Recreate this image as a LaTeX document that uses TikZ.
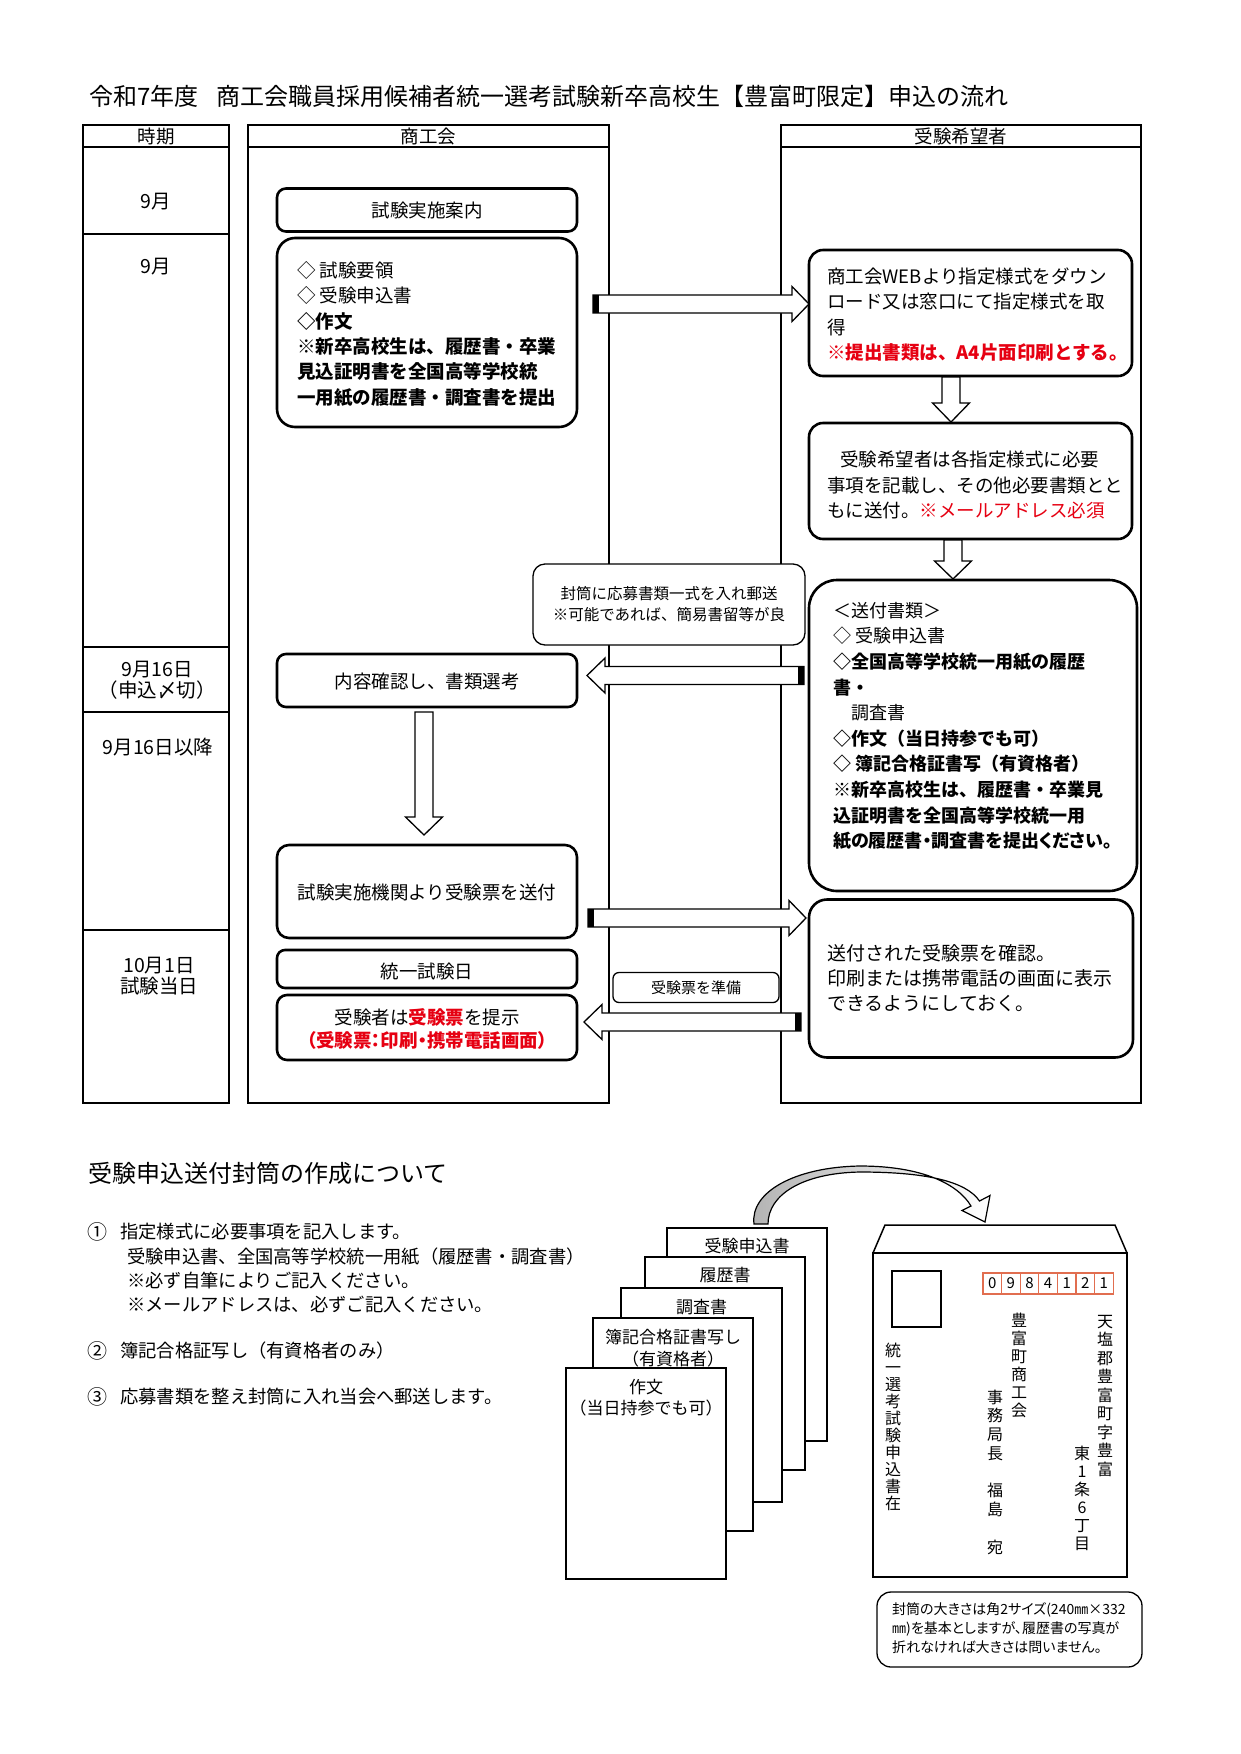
\documentclass[tikz,border=0pt]{standalone}
\usepackage{fontspec}
\setmainfont{Noto Sans CJK JP}
\newfontfamily\pj{Noto Sans CJK JP}[RawFeature={+palt}]
\definecolor{jred}{RGB}{230,0,18}
\definecolor{zipred}{RGB}{225,110,80}
\tikzset{
  rbox/.style={draw, line width=2.6pt, rounded corners=#1, fill=white, inner sep=0pt},
  rbox/.default=10pt,
  tbox/.style={draw, line width=1.3pt, rounded corners=#1, fill=white, inner sep=0pt},
  tbox/.default=10pt,
  colline/.style={line width=1.3pt},
  blk/.style={draw, line width=1.3pt, fill=white, line join=miter},
  txt/.style={inner sep=0pt, font=\fontsize{18.5}{25.3}\selectfont, align=left, anchor=west},
  ctxt/.style={inner sep=0pt, font=\fontsize{18.5}{25.3}\selectfont, align=center},
  ptxt/.style={inner sep=0pt, font=\fontsize{19.5}{21}\selectfont, align=center},
  hdr/.style={inner sep=0pt, font=\fontsize{18.5}{18.5}\selectfont},
  small/.style={inner sep=0pt, font=\fontsize{15.5}{21}\selectfont, align=center},
  sheet/.style={draw, line width=2pt, fill=white, inner sep=0pt, minimum width=160pt, minimum height=213pt},
  sheettxt/.style={inner sep=0pt, font=\fontsize{17}{22}\selectfont, align=center},
  vtxt/.style={inner sep=0pt, font=\fontsize{16}{#1}\selectfont, align=center},
  btxt/.style={inner sep=0pt, font=\fontsize{18.3}{24}\selectfont, align=left, anchor=west},
  numtxt/.style={inner sep=0pt, font=\fontsize{20}{20}\selectfont, anchor=west},
}
% horizontal block arrow: tail x, tip x, centre y, signed head length
\newcommand{\hblk}[4]{%
  \draw[blk] ({#1},{#3-9}) -- ({#2-(#4)},{#3-9}) -- ({#2-(#4)},{#3-17.5}) -- ({#2},{#3})
    -- ({#2-(#4)},{#3+17.5}) -- ({#2-(#4)},{#3+9}) -- ({#1},{#3+9}) -- cycle;
  \fill ({#1},{#3-9}) rectangle ({#1+0.35*(#4)},{#3+9});}
% vertical block arrow: x, tail y, tip y, head length
\newcommand{\vblk}[4]{%
  \draw[blk] ({#1-9},{#2}) -- ({#1-9},{#3-(#4)}) -- ({#1-18.5},{#3-(#4)}) -- ({#1},{#3})
    -- ({#1+18.5},{#3-(#4)}) -- ({#1+9},{#3-(#4)}) -- ({#1+9},{#2}) -- cycle;}
\begin{document}
\begin{tikzpicture}[x=1pt,y=-1pt]
\useasboundingbox (0,0) rectangle (1240,1754);
\fill[white] (0,0) rectangle (1240,1754);

% title
\node[anchor=west, inner sep=0pt, font=\fontsize{24}{24}\selectfont] (title) at (89,96)
  {令和7年度\hspace{18pt}商工会職員採用候補者統一選考試験新卒高校生【豊富町限定】申込の流れ};

% columns
\draw[colline] (83,125) rectangle (229,1103);
\draw[colline] (83,147) -- (229,147);
\draw[colline] (248,125) rectangle (609,1103);
\draw[colline] (248,147) -- (609,147);
\draw[colline] (781,125) rectangle (1141,1103);
\draw[colline] (781,147) -- (1141,147);
\foreach \yy in {234,647,712,930} \draw[colline] (83,\yy) -- (229,\yy);

\node[hdr] (hA) at (156,136) {時期};
\node[hdr] (hB) at (428.5,136) {商工会};
\node[hdr] (hC) at (961,136) {受験希望者};

% period column
\node[ptxt] (t1) at (156,202) {9月};
\node[ptxt] (t2) at (156,267) {9月};
\node[ptxt] (t3) at (157,680) {9月16日\\（申込〆切）};
\node[ptxt] (t4) at (158,747) {9月16日以降};
\node[ptxt] (t5) at (159,976) {10月1日\\試験当日};

% Shokokai column
\node[rbox=9pt, minimum width=300pt, minimum height=43pt] (a1) at (427,210) {};
\node[ctxt] (a1t) at (427,210) {試験実施案内};
\node[rbox=18pt, minimum width=300pt, minimum height=189pt] (a2) at (427,332.5) {};
\node[txt] (a2t) at (297,334) {◇ 試験要領\\◇ 受験申込書\\{\bfseries ◇作文}\\{\bfseries ※新卒高校生は、履歴書・卒業}\\{\bfseries 見込証明書を全国高等学校統}\\{\bfseries 一用紙の履歴書・調査書を提出}};
\node[rbox=9pt, minimum width=300pt, minimum height=53pt] (a3) at (427,680.5) {};
\node[ctxt] (a3t) at (427,681) {内容確認し、書類選考};
\node[rbox=12pt, minimum width=300pt, minimum height=93pt] (a4) at (427,891.5) {};
\node[ctxt] (a4t) at (427,892) {試験実施機関より受験票を送付};
\node[rbox=8pt, minimum width=300pt, minimum height=38pt] (a5) at (427,969) {};
\node[ctxt] (a5t) at (427,971) {統一試験日};
\node[rbox=10pt, minimum width=300pt, minimum height=65pt] (a6) at (427,1027.5) {};
\node[ctxt, font=\fontsize{18.5}{23}\selectfont] (a6t) at (427,1028.5)
  {受験者は\textcolor{jred}{\bfseries 受験票}を提示\\\textcolor{jred}{\bfseries\pj （受験票：印刷・携帯電話画面）}};

% Applicant column
\node[rbox=14pt, minimum width=323pt, minimum height=126pt] (b1) at (970.5,313) {};
\node[txt] (b1t) at (827,314.5) {商工会WEBより指定様式をダウン\\ロード又は窓口にて指定様式を取\\得\\\textcolor{jred}{\bfseries ※提出書類は、A4片面印刷とする。}};
\node[rbox=14pt, minimum width=323pt, minimum height=116pt] (b2) at (970.5,481) {};
\node[txt] (b2t) at (827,485) {\hspace*{13pt}受験希望者は各指定様式に必要\\事項を記載し、その他必要書類とと\\もに送付。\textcolor{jred}{※メールアドレス必須}};
\node[rbox=28pt, minimum width=328pt, minimum height=311pt] (b3) at (973,735.5) {};
\node[txt, font=\fontsize{18}{25.6}\selectfont] (b3t) at (833,726) {＜送付書類＞\\◇ 受験申込書\\{\bfseries ◇全国高等学校統一用紙の履歴}\\{\bfseries 書・}\\\hspace*{18pt}調査書\\{\bfseries ◇作文（当日持参でも可）}\\{\bfseries ◇ 簿記合格証書写（有資格者）}\\{\bfseries ※新卒高校生は、履歴書・卒業見}\\{\bfseries 込証明書を全国高等学校統一用}\\{\bfseries\pj 紙の履歴書・調査書を提出ください。}};
\node[rbox=18pt, minimum width=324pt, minimum height=158pt] (b4) at (971,978.5) {};
\node[txt, font=\fontsize{19}{25}\selectfont] (b4t) at (827,978.5) {送付された受験票を確認。\\印刷または携帯電話の画面に表示\\できるようにしておく。};

% middle notes
\node[tbox=12pt, minimum width=272pt, minimum height=81pt] (m1) at (669,604.5) {};
\node[small] (m1t) at (669,604.5) {封筒に応募書類一式を入れ郵送\\※可能であれば、簡易書留等が良};
\node[tbox=6pt, minimum width=166pt, minimum height=30pt] (m2) at (696,987.5) {};
\node[small, font=\fontsize{15}{15}\selectfont] (m2t) at (696,988) {受験票を準備};

% block arrows
\hblk{593}{809}{304}{17}
\hblk{804}{587}{675.5}{-18}
\hblk{588}{806}{918}{17}
\hblk{801}{584}{1022}{-18}
\vblk{424}{712}{835}{18}
\vblk{951}{377}{422}{19}
\vblk{953}{540}{579}{18}

% lower section
\node[anchor=west, inner sep=0pt, font=\fontsize{24}{24}\selectfont] (h2) at (88,1173) {受験申込送付封筒の作成について};
\node[numtxt] (n1) at (87,1232) {①};
\node[btxt] (n1t) at (120,1232) {指定様式に必要事項を記入します。};
\node[btxt] (n1s) at (127,1280.5) {受験申込書、全国高等学校統一用紙（履歴書・調査書）\\※必ず自筆によりご記入ください。\\※メールアドレスは、必ずご記入ください。};
\node[numtxt] (n2) at (87,1351) {②};
\node[btxt] (n2t) at (120,1351) {簿記合格証写し（有資格者のみ）};
\node[numtxt] (n3) at (87,1397) {③};
\node[btxt] (n3t) at (120,1397) {応募書類を整え封筒に入れ当会へ郵送します。};

% stacked sheets
\node[sheet] (s1) at (747,1334.5) {};
\node[sheettxt] (s1t) at (747,1246) {受験申込書};
\node[sheet] (s2) at (725,1363.5) {};
\node[sheettxt] (s2t) at (725,1275) {履歴書};
\node[sheet, minimum width=161pt, minimum height=214pt] (s3) at (701.5,1395) {};
\node[sheettxt] (s3t) at (701.5,1307) {調査書};
\node[sheet] (s4) at (673,1424.5) {};
\node[sheettxt] (s4t) at (673,1348.5) {簿記合格証書写し\\（有資格者）};
\node[sheet, minimum height=211pt] (s5) at (646,1473.5) {};
\node[sheettxt, font=\fontsize{17}{21}\selectfont] (s5t) at (646,1397.5) {作文\\（当日持参でも可）};

% curved arrow from sheets to envelope
\path[draw, line width=1.2pt, left color=black!30, right color=white, line join=miter]
  (754,1224) .. controls (750,1192) and (795,1167) .. (860,1166)
  .. controls (922,1166) and (958,1184) .. (971,1206)
  -- (962,1210.5) -- (985,1222) -- (990,1195.5) -- (979.5,1201)
  .. controls (966,1181) and (925,1172) .. (860,1172)
  .. controls (802,1173) and (768,1195) .. (768,1224) -- cycle;

% envelope
\draw[line width=1.5pt] (873,1253) -- (885,1225) -- (1115,1225) -- (1127,1253);
\node[draw, line width=1.5pt, inner sep=0pt, minimum width=254pt, minimum height=324pt] (env) at (1000,1415) {};
\node[draw, line width=1.5pt, inner sep=0pt, minimum width=49pt, minimum height=56pt] (stamp) at (916.5,1299) {};
\foreach \d [count=\i] in {0,9,8,4,1,2,1}
  \node[draw=zipred, line width=1.2pt, inner sep=0pt, minimum width=18.6pt, minimum height=21pt,
        font=\fontsize{15}{15}\selectfont] (zip\i) at ({983+18.6*(\i-0.5)},1283.5) {\d};
\node[vtxt=18.5] (addr1) at (1105,1396) {天\\塩\\郡\\豊\\富\\町\\字\\豊\\富};
\node[vtxt=18] (addr2) at (1082,1498) {東\\1\\条\\6\\丁\\目};
\node[vtxt=18] (dest1) at (1019,1365) {豊\\富\\町\\商\\工\\会};
\node[vtxt=18.75] (dest2) at (995,1472) {事\\務\\局\\長\\　\\福\\島\\　\\宛};
\node[vtxt=17] (sender) at (893,1426.5) {統\\一\\選\\考\\試\\験\\申\\込\\書\\在};

% note on envelope size
\node[tbox=14pt, minimum width=265pt, minimum height=75pt] (note) at (1009.5,1629.5) {};
\node[inner sep=0pt, anchor=west, align=left, font=\pj\fontsize{14}{19}\selectfont] (notet) at (892,1628)
  {封筒の大きさは角2サイズ(240㎜×332\\㎜)を基本としますが、履歴書の写真が\\折れなければ大きさは問いません。};
\end{tikzpicture}
\end{document}
